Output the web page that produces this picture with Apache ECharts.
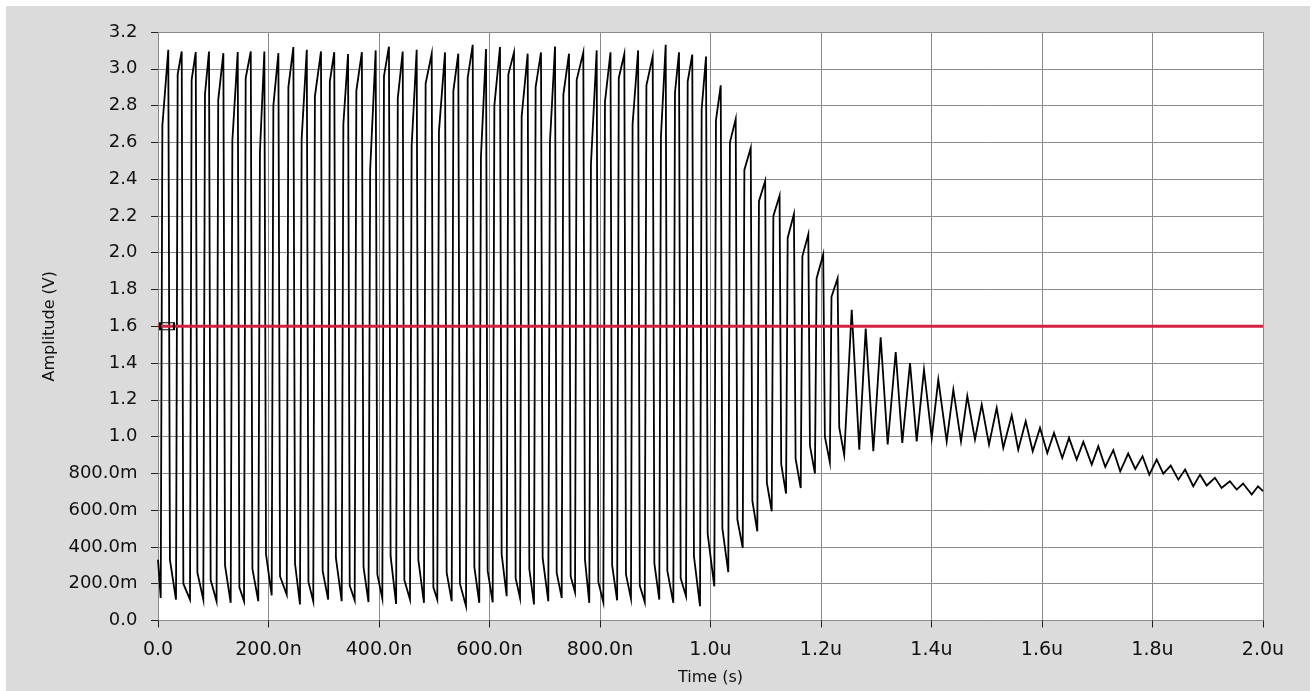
<!DOCTYPE html>
<html>
<head>
<meta charset="utf-8">
<script src="https://cdn.jsdelivr.net/npm/echarts@6/dist/echarts.min.js"></script>
<style>
  html, body { margin: 0; padding: 0; background: #ffffff; }
  #panel { position: absolute; left: 6px; top: 6px; right: 4px; bottom: 0; background: #dbdbdb; }
  #chart { position: absolute; left: 0; top: 0; width: 1314px; height: 691px; }
</style>
</head>
<body>
<div id="panel"></div>
<div id="chart"></div>
<script>
// Axis tick labels (engineering notation)
const xTickLabels = ['0.0', '200.0n', '400.0n', '600.0n', '800.0n', '1.0u', '1.2u', '1.4u', '1.6u', '1.8u', '2.0u'];
const yTickLabels = ['0.0', '200.0m', '400.0m', '600.0m', '800.0m', '1.0', '1.2', '1.4', '1.6', '1.8', '2.0',
                     '2.2', '2.4', '2.6', '2.8', '3.0', '3.2'];

// Waveform: per-cycle trough and peak (time in ns, amplitude in V)
const troughT = [4.9, 32.6, 57.9, 82, 106, 131.6, 155.7, 181.5, 205.8, 233, 257, 281, 308, 332.5,
  356, 381, 406, 431, 456.1, 481.4, 505.5, 531.6, 557.5, 581.5, 605.8, 631.1, 655.2, 680.5, 706.4,
  730.7, 754.8, 780.6, 806, 831, 856, 881, 907.3, 932.7, 955.7, 981,
  1006.9, 1032.2, 1058.3, 1084.7, 1110.8, 1136.7, 1163.3, 1189, 1216, 1242,
  1269.3, 1294.7, 1320.7, 1347.1, 1373.2, 1400.4, 1427.5, 1453.4, 1478.7, 1504.1, 1529.9, 1557,
  1583.2, 1609.6, 1636.7, 1662.8, 1690,
  1714.5, 1741.6, 1768.8, 1794.2, 1819.6, 1846.7, 1873.8, 1898, 1925, 1952.4, 1979.6];
const troughV = [0.123, 0.114, 0.114, 0.114, 0.105, 0.096, 0.105, 0.105, 0.136, 0.14, 0.087, 0.105, 0.114, 0.105,
  0.11, 0.10, 0.12, 0.09, 0.114, 0.096, 0.114, 0.105, 0.078, 0.096, 0.099, 0.132, 0.123, 0.087, 0.105,
  0.123, 0.154, 0.096, 0.10, 0.11, 0.12, 0.10, 0.114, 0.096, 0.132, 0.078,
  0.186, 0.263, 0.395, 0.485, 0.594, 0.69, 0.72, 0.80, 0.86, 0.90,
  0.929, 0.92, 0.957, 0.966, 0.974, 0.993, 0.974, 0.974, 0.984, 0.957, 0.939, 0.929,
  0.92, 0.911, 0.884, 0.875, 0.848,
  0.835, 0.811, 0.824, 0.793, 0.799, 0.766, 0.73, 0.734, 0.721, 0.712, 0.685];
const peakT = [18.6, 42.9, 68.3, 92.3, 118.3, 144.3, 167.9, 192.5, 217.9, 245, 269.3, 295,
  319, 344, 369, 394, 418, 442.9, 468.2, 495.4, 519.5, 543.5, 569.6, 593.7, 619, 644.3, 669.1,
  693.2, 718.6, 743.9, 769.8, 794, 819, 844, 869, 895.4, 918.9, 943, 967, 991.9,
  1018.5, 1045.6, 1072.8, 1099, 1125, 1151, 1177, 1204, 1230,
  1255.6, 1280.9, 1308, 1335.2, 1361.1, 1386.4, 1412.3, 1439.5, 1464.8, 1490.9, 1518, 1545.2,
  1570.5, 1596.4, 1621.7, 1648.9, 1674.8, 1701.9,
  1729, 1756, 1782, 1807.6, 1833, 1859, 1886, 1913, 1940, 1964, 1991];
const peakV = [3.103, 3.094, 3.091, 3.094, 3.085, 3.091, 3.094, 3.094, 3.085, 3.118, 3.103, 3.094,
  3.09, 3.08, 3.09, 3.10, 3.12, 3.094, 3.103, 3.082, 3.089, 3.082, 3.13, 3.107, 3.118, 3.089, 3.082,
  3.089, 3.121, 3.082, 3.089, 3.10, 3.09, 3.08, 3.10, 3.067, 3.13, 3.09, 3.077, 3.067,
  2.91, 2.727, 2.569, 2.39, 2.31, 2.21, 2.10, 1.99, 1.86,
  1.69, 1.587, 1.54, 1.46, 1.40, 1.364, 1.31, 1.255, 1.22, 1.174, 1.156, 1.116,
  1.083, 1.047, 1.02, 0.993, 0.971, 0.947,
  0.926, 0.908, 0.893, 0.875, 0.842, 0.821, 0.793, 0.776, 0.757, 0.745, 0.73];
// Level where each fast rising / falling edge ends before the slow creep to the extreme
const riseKnee = [2.69, 2.97, 2.94, 2.86, 2.83, 2.61, 2.95, 2.55, 2.80, 2.90, 2.62, 2.85, 2.93, 2.70,
  2.88, 2.45, 2.96, 2.84, 2.58, 2.92, 2.66, 2.88, 2.95, 2.52, 2.80, 2.97, 2.74, 2.90, 2.60, 2.86,
  2.94, 2.48, 2.82, 2.95, 2.70, 2.91, 2.63, 2.87, 2.93, 2.78,
  2.72, 2.60, 2.45, 2.28, 2.20, 2.08, 1.98, 1.86, 1.76];
const fallKnee = [0.33, 0.20, 0.26, 0.22, 0.30, 0.18, 0.28, 0.36, 0.24, 0.31, 0.21, 0.27, 0.34, 0.19,
  0.29, 0.25, 0.35, 0.22, 0.33, 0.18, 0.26, 0.20, 0.29, 0.27, 0.36, 0.23, 0.28, 0.34, 0.26, 0.24,
  0.33, 0.21, 0.30, 0.25, 0.19, 0.31, 0.27, 0.23, 0.35, 0.47,
  0.50, 0.55, 0.65, 0.75, 0.85, 0.88, 0.95, 1.0, 1.05];
const startLevel = 0.33;
const endLevel = 0.703;
const EDGE_NS = 3;

// Reference level trace
const refLevel = 1.6;
const timeSpan = [0, 2000];

const wave = [[timeSpan[0], startLevel]];
for (let k = 0; k < troughT.length; k++) {
  wave.push([troughT[k], troughV[k]]);
  if (riseKnee[k] != null) wave.push([troughT[k] + EDGE_NS, riseKnee[k]]);
  wave.push([peakT[k], peakV[k]]);
  if (fallKnee[k] != null) wave.push([peakT[k] + EDGE_NS, fallKnee[k]]);
}
wave.push([timeSpan[1], endLevel]);

const chart = echarts.init(document.getElementById('chart'), null, { renderer: 'canvas' });
const labelFont = 'DejaVu Sans';
const textColor = '#111111';
chart.setOption({
  animation: false,
  backgroundColor: 'transparent',
  grid: { left: 158, right: 51, top: 32, bottom: 70.5, show: true, backgroundColor: '#ffffff', borderWidth: 0 },
  xAxis: {
    type: 'value', min: 0, max: 2000, interval: 200, offset: 4,
    name: 'Time (s)', nameLocation: 'middle', nameGap: 45,
    nameTextStyle: { fontFamily: labelFont, fontSize: 16, color: textColor },
    axisLine: { show: false },
    axisTick: { show: true, length: 7, lineStyle: { color: '#222', width: 1 } },
    axisLabel: { margin: 16, fontFamily: labelFont, fontSize: 19, color: textColor,
      formatter: v => xTickLabels[Math.round(v / 200)] },
    splitLine: { show: true, lineStyle: { color: '#8a8a8a', width: 1 } }
  },
  yAxis: {
    type: 'value', min: 0, max: 3.2, interval: 0.2, offset: 3,
    name: 'Amplitude (V)', nameLocation: 'middle', nameGap: 95, nameRotate: 90,
    nameTextStyle: { fontFamily: labelFont, fontSize: 16, color: textColor },
    axisLine: { show: false },
    axisTick: { show: true, length: 7, lineStyle: { color: '#222', width: 1 } },
    axisLabel: { margin: 17.5, fontFamily: labelFont, fontSize: 18, color: textColor,
      formatter: v => yTickLabels[Math.round(v / 0.2)] },
    splitLine: { show: true, lineStyle: { color: '#8a8a8a', width: 1 } }
  },
  series: [
    {
      type: 'line', data: wave, showSymbol: false, symbol: 'none', z: 3,
      lineStyle: { color: '#000000', width: 1.8, join: 'miter' }
    },
    {
      type: 'line', z: 4,
      data: [
        { value: [timeSpan[0], refLevel], symbol: 'rect', symbolSize: [14, 7], symbolOffset: [9, 0],
          itemStyle: { color: 'rgba(0,0,0,0)', borderColor: '#000', borderWidth: 1.5 } },
        { value: [timeSpan[1], refLevel], symbol: 'none' }
      ],
      showSymbol: true, showAllSymbol: true,
      lineStyle: { color: '#d3223f', width: 2.8 }
    }
  ]
});
</script>
</body>
</html>
